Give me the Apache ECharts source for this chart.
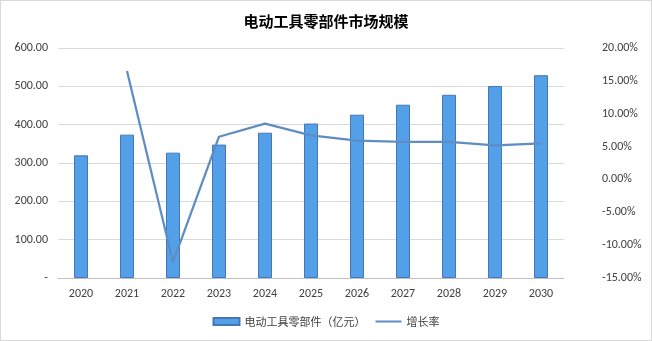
<!DOCTYPE html>
<html>
<head>
<meta charset="utf-8">
<script src="https://cdn.jsdelivr.net/npm/echarts@6/dist/echarts.min.js"></script>
<style>
  html, body { margin: 0; padding: 0; background: #fff; }
  #chart { width: 650px; height: 339px; border: 1px solid #d9d9d9; }
</style>
</head>
<body>
<div id="chart"></div>
<script>
// Market size of power tool parts (亿元) and year-on-year growth
const years = ['2020', '2021', '2022', '2023', '2024', '2025', '2026', '2027', '2028', '2029', '2030'];
const marketSize = [320, 374, 327, 348, 379, 403, 426, 452, 478, 501, 529];
const growthRate = [null, 16.5, -12.6, 6.5, 8.5, 6.7, 5.9, 5.7, 5.7, 5.2, 5.5];

const barName = '电动工具零部件（亿元）';
const lineName = '增长率';

const chart = echarts.init(document.getElementById('chart'));
const font = '"Microsoft YaHei", "Noto Sans CJK SC", sans-serif';
const numFont = 'Calibri, Carlito, "Liberation Sans", sans-serif';

chart.setOption({
  animation: false,
  textStyle: { fontFamily: font },
  title: {
    text: '电动工具零部件市场规模',
    left: 'center',
    top: 8,
    textStyle: { fontSize: 15, fontWeight: 'bold', color: '#000', fontFamily: font }
  },
  legend: {
    bottom: 8,
    left: 'center',
    itemGap: 10,
    itemWidth: 26,
    itemHeight: 7,
    textStyle: { fontSize: 11, color: '#404040', fontFamily: font },
    data: [
      { name: barName, icon: 'rect' },
      { name: lineName, icon: 'path://M0,0 L26,0 L26,2 L0,2 Z' }
    ]
  },
  grid: { left: 57, right: 87, top: 47, bottom: 62, containLabel: false },
  xAxis: {
    type: 'category',
    data: years,
    axisTick: { show: false },
    axisLine: { lineStyle: { color: '#bfbfbf' } },
    axisLabel: { color: '#404040', fontSize: 12, margin: 10, fontFamily: numFont }
  },
  yAxis: [
    {
      type: 'value',
      min: 0, max: 600, interval: 100,
      axisLine: { show: false },
      axisTick: { show: false },
      splitLine: { lineStyle: { color: '#d9d9d9' } },
      axisLabel: {
        color: '#404040', fontSize: 12, margin: 10,
        fontFamily: numFont,
        formatter: v => v === 0 ? '-' : v.toFixed(2)
      }
    },
    {
      type: 'value',
      min: -15, max: 20, interval: 5,
      axisLine: { show: false },
      axisTick: { show: false },
      splitLine: { show: false },
      axisLabel: {
        color: '#404040', fontSize: 12, margin: 38,
        fontFamily: numFont,
        formatter: v => v.toFixed(2) + '%'
      }
    }
  ],
  series: [
    {
      name: barName,
      type: 'bar',
      data: marketSize,
      barWidth: 14,
      itemStyle: { color: '#539fe8', borderColor: '#4478b4', borderWidth: 1 }
    },
    {
      name: lineName,
      type: 'line',
      yAxisIndex: 1,
      data: growthRate,
      showSymbol: false,
      symbol: 'none',
      lineStyle: { color: '#5d8dc2', width: 2.25 },
      itemStyle: { color: '#5d8dc2' }
    }
  ]
});
</script>
</body>
</html>
